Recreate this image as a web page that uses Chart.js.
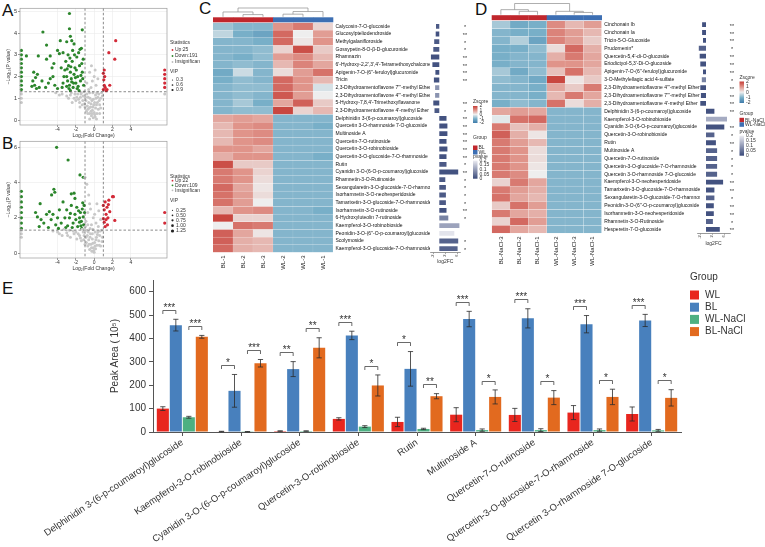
<!DOCTYPE html>
<html><head><meta charset="utf-8">
<script src="https://cdn.jsdelivr.net/npm/chart.js@4.4.1/dist/chart.umd.min.js"></script>
<style>
html,body{margin:0;padding:0;background:#fff;width:765px;height:547px;overflow:hidden;position:relative}
canvas{position:absolute}
.lab{position:absolute;font-family:"Liberation Sans",Arial,sans-serif;font-size:17px;line-height:17px;color:#111}
</style></head><body>
<div class="lab" style="left:2px;top:2px">A</div>
<div class="lab" style="left:2px;top:135px">B</div>
<div class="lab" style="left:199px;top:0px">C</div>
<div class="lab" style="left:475px;top:1px">D</div>
<div class="lab" style="left:2px;top:280px">E</div>
<script>
// ================= DATA =================
// ---- Panel E : peak areas (10^5) ----
const compoundsE = ['Delphinidin 3-(6-p-coumaroyl)glucoside','Kaempferol-3-O-robinobioside','Cyanidin 3-O-(6-O-p-coumaroyl)glucoside','Quercetin-3-O-robinobioside','Rutin','Multinoside A','Quercetin-7-O-rutinoside','Quercetin-3-O-glucoside-7-O-rhamnoside','Quercetin 3-O-rhamnoside 7-O-glucoside'];
const groupNamesE = ['WL','BL','WL-NaCl','BL-NaCl'];
const wlMean     = [100, 2, 4, 56, 43, 74, 73, 83, 77];
const wlErr      = [8, 1, 1, 5, 20, 30, 28, 30, 30];
const blMean     = [457, 176, 269, 413, 270, 483, 486, 461, 477];
const blErr      = [25, 70, 32, 18, 74, 33, 41, 37, 26];
const wlNaClMean = [63, 1, 4, 23, 13, 8, 8, 8, 7];
const wlNaClErr  = [4, 1, 1, 4, 3, 5, 6, 5, 4];
const blNaClMean = [407, 294, 360, 199, 153, 150, 147, 150, 146];
const blNaClErr  = [6, 16, 43, 45, 11, 30, 30, 33, 35];
const sigWLvsBL  = ['***','*','**','***','*','***','***','***','***'];
const sigNaCl    = ['***','***','**','*','**','*','*','*','*'];
const yTicksE    = [0,100,200,300,400,500,600];

// ---- Panels A/B : volcano points [log2FC, -log10 p] ----
const volcanoXTicks = [-4,-2,0,2,4];
const volcanoAYTicks = [0,1,2,3,4,5];
const volcanoBYTicks = [0,2,4,6];
const fcCut = [-1, 1];
const pCut = 1.301;
const volcanoA_down = [[-2.7,4.9],[-5.6,4.05],[-2.7,4.2],[-1.3,4.15],[-3.7,3.65],[-5.2,3.45],[-2.6,3.85],[-3.0,3.6],[-2.45,3.65],[-2.2,3.5],[-7.4,2.95],[-6.1,2.95],[-5.2,2.8],[-4.8,2.95],[-4.0,3.2],[-3.8,3.05],[-3.4,3.1],
[-6.6,2.2],[-6.4,1.95],[-6.7,1.8],[-6.2,2.1],[-6.5,1.6],[-6.0,1.5],[-5.7,1.8],[-5.3,1.5],[-5.0,1.7],[-4.8,1.9],[-4.5,2.0],[-4.3,1.6],[-4.0,1.45],[-4.4,2.6],[-4.6,2.4],[-6.8,1.55],[-6.3,1.45],
[-3.2,2.3],[-3.0,2.0],[-2.9,1.8],[-2.8,2.5],[-2.7,1.6],[-2.6,2.2],[-2.5,1.9],[-2.4,2.7],[-2.3,1.5],[-2.2,2.1],[-2.1,2.4],[-2.0,1.7],[-1.9,2.9],[-1.8,2.0],[-1.7,3.1],[-1.6,2.5],[-1.5,1.8],[-1.4,3.3],[-1.3,2.2],[-1.2,2.8],[-1.15,1.6],[-3.4,1.7],[-3.1,2.7],[-2.85,3.0],[-2.65,2.85],[-2.35,3.2],[-2.15,3.0],[-1.95,2.3],[-1.75,1.55],[-1.55,3.25],[-1.35,2.6],[-2.75,1.45],[-2.45,1.75],[-2.05,1.95],[-1.85,1.45],[-3.3,2.0],[-3.6,2.4],[-3.5,1.5],[-2.95,2.35],[-2.55,2.45],[-1.25,1.9],[-1.45,2.05],[-2.25,1.7],[-3.0,1.55],[-2.6,1.35],[-1.65,1.35],
[-7.95,1.4],[-7.95,1.6],[-7.95,1.8],[-7.95,2.0],[-7.95,2.2],[-7.95,2.4],[-7.95,2.6],[-7.95,2.8],[-7.95,3.0],[-7.95,3.2]];
const volcanoA_up = [[1.0,1.4],[1.1,1.6],[1.05,1.85],[1.15,2.0],[1.0,2.15],[1.1,2.3],[1.2,1.5],[1.3,1.35],[1.7,1.6],[1.6,3.1],[2.35,3.65],[2.25,2.8],[1.4,1.4],[7.7,1.5],[7.7,1.7],[7.7,1.9],[7.7,2.1],[7.7,2.3]];
const volcanoA_ns = [[-3.5,1.2],[-3.0,1.1],[-2.6,1.15],[-2.2,1.0],[-2.0,0.9],[-1.8,1.2],[-1.6,0.8],[-1.5,1.05],[-1.3,0.7],[-1.2,1.1],[-1.0,0.6],[-0.9,0.9],[-0.8,1.2],[-0.7,0.5],[-0.6,0.8],[-0.5,0.3],[-0.45,1.0],[-0.4,0.6],[-0.3,0.2],[-0.25,0.9],[-0.2,0.45],[-0.1,0.1],[-0.05,0.7],[0,0.35],[0.1,0.15],[0.15,0.55],[0.2,1.0],[0.3,0.3],[0.35,0.8],[0.45,0.5],[0.5,1.2],[0.6,0.7],[0.7,1.0],[0.8,1.25],[-0.35,1.5],[-0.2,1.8],[0,2.0],[0.2,1.6],[-0.6,1.4],[-0.8,1.7],[-0.5,2.2],[-0.3,2.5],[0.4,1.9],[0.1,2.3],[-1.1,1.3],[-1.4,1.25],[-0.15,1.25],[-1.7,0.95],[-2.4,0.8],[-0.85,0.4],[0.25,0.05],[-0.5,0.05],[0.6,0.3],
[-4.2,1.25],[-3.8,1.15],[-2.8,1.0],[-2.5,1.25],[-1.9,1.05],[-1.55,0.6],[-1.25,0.9],[-1.05,0.75],[-0.95,1.05],[-0.75,0.65],[-0.65,1.05],[-0.55,0.55],[-0.35,0.4],[-0.35,0.75],[-0.15,0.6],[-0.1,0.95],[0.05,0.25],[0.05,0.8],[0.25,0.7],[0.4,1.05],[0.55,0.9],[0.7,0.55],[0.9,1.1],[-0.7,0.3],[-0.25,0.3],[0.15,1.15],[-1.45,1.2],[-2.1,1.2],[-0.5,1.25],[0.3,1.25],
[-7.95,0.8],[-7.95,1.0],[-7.95,1.2],[7.7,1.2]];
const volcanoB_down = [[-4.1,6.0],[-2.85,5.28],[-1.55,4.43],[-1.2,4.3],[-4.4,3.62],[-4.65,3.3],[-4.3,3.45],[-2.5,3.36],[-2.2,3.4],[-2.1,3.1],[-5.9,2.8],[-6.4,2.3],[-6.2,2.05],[-5.8,1.9],[-5.5,1.7],[-5.2,2.2],[-4.9,2.35],[-4.7,1.9],[-4.5,2.2],[-4.2,1.6],[-4.0,2.0],[-3.8,2.45],[-3.6,1.7],[-3.4,2.9],[-3.2,2.0],[-3.0,2.45],[-2.9,1.55],[-2.7,2.0],[-2.5,2.7],[-2.3,1.7],[-2.1,2.2],[-1.9,2.6],[-1.8,1.5],[-1.6,2.0],[-1.5,2.3],[-1.4,1.8],[-1.3,2.5],[-1.2,2.05],[-1.15,1.6],[-1.1,2.7],[-2.4,1.45],[-3.9,1.4],[-5.0,1.45],[-6.0,1.5],[-2.0,1.9],[-1.7,2.4],[-1.35,1.4],[-2.6,2.25],[-3.1,1.45],[-1.25,2.85],[-1.45,1.55],[-1.05,2.3],[-1.6,1.75],
[-7.95,1.4],[-7.95,1.7],[-7.95,2.0],[-7.95,2.3],[-7.95,2.6],[-7.95,2.9],[-7.95,3.2],[-7.95,3.5]];
const volcanoB_up = [[1.0,2.7],[1.1,2.45],[1.2,2.9],[1.3,2.2],[1.4,2.6],[1.5,2.0],[1.6,3.0],[1.7,2.35],[1.3,1.9],[1.1,1.75],[2.0,3.2],[2.1,3.2],[1.55,2.75],[2.25,1.85],[1.2,1.5],[1.0,1.95],[1.45,1.6],[7.7,2.3],[7.7,1.7]];
const volcanoB_ns = [[-4.0,1.2],[-3.5,1.0],[-3.0,1.15],[-2.6,0.9],[-2.2,1.1],[-1.9,0.8],[-1.6,1.0],[-1.4,0.7],[-1.2,1.2],[-1.0,0.5],[-0.9,0.9],[-0.8,1.3],[-0.7,0.4],[-0.6,0.75],[-0.5,0.2],[-0.4,1.1],[-0.35,0.5],[-0.25,0.1],[-0.2,0.8],[-0.1,0.3],[0,0.05],[0.05,0.6],[0.15,0.25],[0.25,0.9],[0.3,0.45],[0.4,1.2],[0.5,0.7],[0.6,1.0],[0.7,0.4],[0.8,1.3],[0.9,0.9],[-0.9,1.8],[-0.7,2.3],[-0.5,2.8],[-0.6,3.3],[-0.8,3.9],[-1.0,4.3],[-0.3,1.6],[-0.1,2.0],[0.2,1.7],[0.5,2.4],[0.3,2.8],[0.7,1.9],[-0.4,2.5],[-0.95,1.5],[-1.3,1.35],[-2.7,1.3],[-3.3,1.35],[-0.65,1.2],[-0.15,1.35],[0.45,1.5],
[-4.5,1.25],[-3.8,1.1],[-2.9,1.0],[-2.3,1.25],[-1.75,1.1],[-1.5,0.85],[-1.1,1.0],[-0.85,0.6],[-0.75,1.0],[-0.55,0.5],[-0.45,0.9],[-0.3,0.3],[-0.15,0.55],[-0.05,0.15],[0.1,0.4],[0.2,0.75],[0.35,1.05],[0.55,0.45],[0.65,1.25],[0.85,0.65],[-0.45,1.4],[-0.2,1.1],[0.1,1.2],[-1.15,0.75],[-2.0,1.2],[-0.7,1.6],[0.05,2.2],
[-7.95,0.9],[-7.95,1.1],[-7.95,1.3]];

// ---- Panel C : heatmap BL vs WL ----
const colsC = ['BL-1','BL-2','BL-3','WL-2','WL-3','WL-1'];
const groupsC = ['BL','BL','BL','WL','WL','WL'];
const rowsC = ["Calycosin-7-O-glucoside","Glucosylpteliodendroside","Methylgalanifloroside","Gossypetin-8-O-β-D-glucuronide","Rhamnazin","6'-Hydroxy-2,2',3',4'-Tetramethoxychalcone","Apigenin-7-O-(6''-feruloyl)glucuronide","Tricin","2,3-Dihydroamentoflavone 7'''-methyl Ether","2,3-Dihydroamentoflavone 4'''-methyl Ether","5-Hydroxy-7,8,4'-Trimethoxyflavanone","2,3-Dihydroamentoflavone 4'-methyl Ether","Delphinidin 3-(6-p-coumaroyl)glucoside","Quercetin 3-O-rhamnoside 7-O-glucoside","Multinoside A","Quercetin-7-O-rutinoside","Quercetin-3-O-robinobioside","Quercetin-3-O-glucoside-7-O-rhamnoside","Rutin","Cyanidin 3-O-(6-O-p-coumaroyl)glucoside","Rhamnetin-3-O-Rutinoside","Sexangularetin-3-O-glucoside-7-O-rhamnoside","Isorhamnetin-3-O-neohesperidoside","Tamarixetin-3-O-glucoside-7-O-rhamnoside","Isorhamnetin-3-O-rutinoside","6-Hydroxyluteolin 7-rutinoside","Kaempferol-3-O-robinobioside","Peonidin-3-O-(6''-O-p-coumaroyl)glucoside","Scolymoside","Kaempferol-3-O-glucoside-7-O-rhamnoside"];
const zC = [
[-0.7,-0.9,-0.9, 1.0, 1.3, 0.3],[-0.4,-1.0,-1.2, 1.5, 0.0, 0.9],[-0.9,-0.9,-1.0, 1.5, 0.1, 1.0],[-0.9,-0.9,-0.8, 0.3, 1.8, 0.4],
[-0.9,-1.0,-0.8, 0.9, 1.1, 0.6],[-0.9,-0.8,-0.9, 0.6, 1.2, 0.8],[-1.1,-0.3,-0.9, 0.2, 0.9, 1.4],[-1.0,-0.8,-0.9, 1.5, 1.0, 0.6],
[-0.9,-0.8,-0.8, 1.5, 1.0,-0.2],[-0.9,-0.8,-0.9, 1.7, 0.9, 0.0],[-0.9,-0.6,-1.0, 0.8, 1.6, 0.4],[-0.9,-0.8,-0.8, 1.9, 0.3, 0.6],
[ 0.8, 0.9, 0.8,-0.9,-0.9,-0.9],[ 0.6, 1.0, 1.1,-0.9,-0.9,-1.0],[ 0.6, 1.0, 1.1,-0.9,-0.9,-0.9],[ 0.6, 1.0, 1.1,-0.9,-0.9,-0.9],
[ 1.0, 1.0, 0.8,-0.9,-0.9,-0.9],[ 0.7, 1.0, 1.0,-0.9,-0.9,-1.0],[ 1.8, 0.4, 0.4,-0.9,-0.9,-0.9],[ 1.3, 1.0, 0.3,-0.9,-0.9,-0.9],
[ 1.3, 1.0, 0.2,-0.9,-0.9,-0.9],[ 1.5, 0.8, 0.1,-0.9,-0.9,-0.9],[ 1.4, 0.9, 0.2,-0.9,-0.9,-0.9],[ 1.4, 0.9, 0.0,-0.9,-0.9,-0.9],
[ 0.6, 1.0, 1.1,-0.9,-0.9,-1.0],[ 1.9, 0.3, 0.3,-0.9,-0.9,-0.9],[ 0.0, 1.4, 1.3,-0.9,-0.9,-0.9],[ 1.6, 0.8, 0.1,-0.9,-0.9,-0.9],
[ 1.6, 0.7, 0.6,-0.9,-0.9,-0.9],[ 1.5, 0.7, 0.6,-0.9,-0.9,-0.9]];
const fcC = [-1.1,-1.2,-1.7,-2.0,-2.8,-2.3,-1.3,-1.8,-1.4,-1.4,-2.0,-1.6,2.4,2.7,2.7,2.4,2.7,2.4,2.4,6.3,2.0,2.2,2.2,2.2,2.4,3.0,6.7,5.0,6.3,6.1];
const pC  = [0.02,0.01,0.02,0.02,0.01,0.01,0.01,0.01,0.09,0.09,0.01,0.02,0.01,0.01,0.01,0.01,0.01,0.01,0.02,0.01,0.02,0.02,0.02,0.02,0.01,0.07,0.11,0.19,0.03,0.03];
const starsC = ['*','**','*','*','**','**','**','**','','','**','*','**','**','**','**','**','**','*','**','*','*','*','*','**','*','','','*','*'];
const mergesC = [[1,2,0.25],[0,6,0.55],[3,4,0.3],[5,8,0.6],[7,9,1]];

// ---- Panel D : heatmap BL-NaCl vs WL-NaCl ----
const colsD = ['BL-NaCl-3','BL-NaCl-2','BL-NaCl-1','WL-NaCl-2','WL-NaCl-3','WL-NaCl-1'];
const groupsD = ['BL-NaCl','BL-NaCl','BL-NaCl','WL-NaCl','WL-NaCl','WL-NaCl'];
const rowsD = ["Cinchonain Ib","Cinchonain Ia","Tricin-5-O-Glucoside","Prudomenin*","Quercetin-5,4'-di-O-glucoside","Eriodictyol-5,3'-Di-O-glucoside","Apigenin-7-O-(6''-feruloyl)glucuronide","3-O-Methylellagic acid 4-sulfate","2,3-Dihydroamentoflavone 4'''-methyl Ether","2,3-Dihydroamentoflavone 7'''-methyl Ether","2,3-Dihydroamentoflavone 4'-methyl Ether","Delphinidin 3-(6-p-coumaroyl)glucoside","Kaempferol-3-O-robinobioside","Cyanidin 3-O-(6-O-p-coumaroyl)glucoside","Quercetin-3-O-robinobioside","Rutin","Multinoside A","Quercetin-7-O-rutinoside","Quercetin-3-O-glucoside-7-O-rhamnoside","Quercetin 3-O-rhamnoside 7-O-glucoside","Kaempferol-3-O-neohesperidoside","Tamarixetin-3-O-glucoside-7-O-rhamnoside","Sexangularetin-3-O-glucoside-7-O-rhamnoside","Peonidin-3-O-(6''-O-p-coumaroyl)glucoside","Isorhamnetin-3-O-neohesperidoside","Rhamnetin-3-O-Rutinoside","Hesperetin-7-O-glucoside"];
const zD = [
[-0.6,-1.1,-1.0, 1.1, 0.6, 0.9],[-0.9,-1.0,-1.0, 1.2, 0.9, 0.6],[-0.9,-0.5,-1.2, 1.2, 0.9, 0.4],[-1.0,-1.0,-0.8, 0.2, 1.5, 0.7],
[-1.0,-0.9,-0.9, 0.7, 1.3, 0.8],[-1.0,-0.9,-0.9, 1.0, 1.0, 0.8],[-0.6,-1.1,-0.8, 0.5, 1.4, 0.6],[-0.8,-0.9,-1.1, 1.9, 0.1, 0.4],
[-0.9,-0.9,-1.0, 0.8, 0.4, 1.3],[-0.9,-0.9,-1.0, 0.6, 1.3, 0.8],[-1.0,-0.8,-0.9, 1.4, 0.2, 0.7],
[ 0.8, 0.9, 0.8,-0.9,-0.9,-0.9],[-0.1, 1.4, 1.5,-0.9,-0.9,-0.9],[ 1.3, 0.5, 0.7,-0.9,-0.9,-0.9],[ 1.6, 0.7, 0.1,-0.9,-0.9,-0.9],
[ 1.3, 0.9, 0.6,-0.9,-0.9,-0.9],[ 1.3, 1.0, 0.2,-0.9,-0.9,-0.9],[ 1.3, 1.0, 0.2,-0.9,-0.9,-0.9],[ 1.3, 1.0, 0.1,-0.9,-0.9,-0.9],
[ 1.3, 1.1, 0.0,-0.9,-0.9,-0.9],[ 0.3, 1.3, 0.8,-0.9,-0.9,-0.9],[ 1.3, 0.9, 0.7,-0.9,-0.9,-0.9],[ 1.4, 0.8, 0.6,-0.9,-0.9,-0.9],
[ 0.4, 1.4, 0.9,-0.9,-0.9,-0.9],[ 1.3, 0.8, 0.7,-0.9,-0.9,-0.9],[ 0.3, 1.5, 0.9,-0.9,-0.9,-0.9],[ 1.5, 0.8, 0.6,-0.9,-0.9,-0.9]];
const fcD = [-1.3,-1.3,-1.0,-2.4,-2.1,-1.9,-1.0,-1.4,-1.9,-1.7,-1.9,2.8,7.0,6.1,2.8,3.3,3.7,3.7,3.7,3.7,5.7,2.8,2.8,2.6,2.6,2.3,4.6];
const pD  = [0.01,0.01,0.01,0.03,0.01,0.01,0.01,0.07,0.01,0.01,0.01,0.01,0.12,0.01,0.03,0.01,0.03,0.03,0.03,0.03,0.01,0.01,0.03,0.01,0.01,0.03,0.01];
const starsD = ['**','**','**','*','**','**','**','*','**','**','**','**','','**','*','**','*','*','*','*','**','**','*','**','**','*','**'];
const mergesD = [[1,2,0.3],[0,6,0.45],[4,5,0.2],[3,8,0.3],[7,9,1]];
const fcTicksC = [-2,0,2,4,6];
const fcTicksD = [-2,0,2,4,6,8];

// ================= STYLE / HELPERS =================
const F = '"Liberation Sans", Arial, sans-serif';
Chart.defaults.font.family = F;
Chart.defaults.animation = false;
Chart.defaults.responsive = false;
Chart.defaults.maintainAspectRatio = false;
Chart.defaults.plugins.legend.display = false;
Chart.defaults.plugins.tooltip.enabled = false;
Chart.defaults.devicePixelRatio = 1;

function mkCanvas(left, top, w, h){
  const c = document.createElement('canvas');
  c.width = w; c.height = h;
  c.style.left = left+'px'; c.style.top = top+'px';
  c.style.width = w+'px'; c.style.height = h+'px';
  document.body.appendChild(c);
  return c;
}
const zStops = [[-2,[62,122,170]],[-1,[120,175,200]],[0,[238,238,238]],[1,[224,148,138]],[2,[198,62,56]]];
function zColor(z){
  z = Math.max(-2, Math.min(2, z));
  for (let k=0;k<zStops.length-1;k++){
    const [a,ca]=zStops[k],[b,cb]=zStops[k+1];
    if (z<=b){ const t=(z-a)/(b-a); return 'rgb('+ca.map((v,i)=>Math.round(v+(cb[i]-v)*t)).join(',')+')'; }
  }
  return 'rgb('+zStops[4][1].join(',')+')';
}
function pColor(p){
  const t = Math.max(0, Math.min(1, p/0.2));
  const a=[58,74,122], b=[236,236,242];
  return 'rgb('+a.map((v,i)=>Math.round(v+(b[i]-v)*t)).join(',')+')';
}

// ================= PANEL E =================
const colorsE = ['#E8261E','#4880BD','#4DB082','#E26A1F'];
const meansE = [wlMean, blMean, wlNaClMean, blNaClMean];
const errsE = [wlErr, blErr, wlNaClErr, blNaClErr];

const errorBarPlugin = {id:'eb', afterDatasetsDraw(chart){
  const {ctx, scales:{y}} = chart;
  ctx.save(); ctx.strokeStyle='#2b2b2b'; ctx.lineWidth=0.8;
  chart.data.datasets.forEach((ds,di)=>{
    chart.getDatasetMeta(di).data.forEach((el,i)=>{
      const m=ds.data[i], e=ds.errors[i];
      const yt=y.getPixelForValue(m+e), yb=y.getPixelForValue(Math.max(0,m-e)), x=el.x;
      ctx.beginPath();
      ctx.moveTo(x,yt); ctx.lineTo(x,yb);
      ctx.moveTo(x-2.6,yt); ctx.lineTo(x+2.6,yt);
      ctx.moveTo(x-2.6,yb); ctx.lineTo(x+2.6,yb);
      ctx.stroke();
    });
  });
  ctx.restore();
}};
const bracketPlugin = {id:'brk', afterDatasetsDraw(chart){
  const {ctx, scales:{y}} = chart;
  const ds = chart.data.datasets, gap = 40;
  ctx.save(); ctx.strokeStyle='#444'; ctx.lineWidth=0.8; ctx.fillStyle='#333';
  ctx.font='10px '+F; ctx.textAlign='center'; ctx.textBaseline='alphabetic';
  compoundsE.forEach((c,i)=>{
    [[0,1,sigWLvsBL[i]],[2,3,sigNaCl[i]]].forEach(([a,b,s])=>{
      const top = Math.max(ds[a].data[i]+ds[a].errors[i], ds[b].data[i]+ds[b].errors[i]) + gap;
      const py = Math.round(y.getPixelForValue(top))+0.5;
      const xa = chart.getDatasetMeta(a).data[i].x, xb = chart.getDatasetMeta(b).data[i].x;
      ctx.beginPath(); ctx.moveTo(xa,py+3.5); ctx.lineTo(xa,py); ctx.lineTo(xb,py); ctx.lineTo(xb,py+3.5); ctx.stroke();
      ctx.fillText(s,(xa+xb)/2,py+0.5);
    });
  });
  ctx.restore();
}};
const legendE = {id:'legE', afterDraw(chart){
  const ctx = chart.ctx;
  ctx.save(); ctx.font='10px '+F; ctx.fillStyle='#333'; ctx.textBaseline='middle'; ctx.textAlign='left';
  ctx.fillText('Group', 690, 7);
  groupNamesE.forEach((g,k)=>{
    const cy = 25 + k*12.2;
    ctx.fillStyle = colorsE[k]; ctx.fillRect(690, cy-4.5, 9, 9);
    ctx.fillStyle = '#333'; ctx.fillText(g, 705, cy);
  });
  ctx.restore();
}};

new Chart(mkCanvas(0,270,765,277), {
  type:'bar',
  data:{labels:compoundsE, datasets: groupNamesE.map((n,i)=>({label:n, data:meansE[i], errors:errsE[i], backgroundColor:colorsE[i], borderWidth:0, categoryPercentage:0.886, barPercentage:0.93}))},
  options:{
    layout:{padding:{left:105, top:10, right:84, bottom:0}},
    scales:{
      x:{grid:{display:true, drawOnChartArea:false, offset:false, tickLength:4, color:'#555'}, border:{color:'#555', width:1},
         ticks:{autoSkip:false, minRotation:34, maxRotation:34, font:{size:9.5}, color:'#333', padding:1},
         afterFit:s=>{s.height=115;}},
      y:{min:0, max:650, afterBuildTicks:s=>{s.ticks=yTicksE.map(v=>({value:v}));},
         grid:{drawOnChartArea:false, tickLength:4, color:'#555'}, border:{color:'#555', width:1},
         ticks:{font:{size:10}, color:'#333', padding:3},
         title:{display:true, text:'Peak Area ( 10⁵)', font:{size:10}, color:'#333', padding:{top:4,bottom:0}},
         afterFit:s=>{s.width=48;}}
    }
  },
  plugins:[errorBarPlugin, bracketPlugin, legendE]
});

// ================= PANELS A / B =================
const volcanoDeco = {id:'vdeco', afterDatasetsDraw(chart, args, o){
  const {ctx, chartArea:a, scales:{x,y}} = chart;
  ctx.save();
  ctx.setLineDash([2.5,2]); ctx.strokeStyle='#3a3a3a'; ctx.lineWidth=0.6;
  fcCut.forEach(v=>{const px=x.getPixelForValue(v); ctx.beginPath(); ctx.moveTo(px,a.top); ctx.lineTo(px,a.bottom); ctx.stroke();});
  const py=y.getPixelForValue(pCut); ctx.beginPath(); ctx.moveTo(a.left,py); ctx.lineTo(a.right,py); ctx.stroke();
  ctx.setLineDash([]); ctx.strokeStyle='#9a9a9a'; ctx.lineWidth=0.7; ctx.strokeRect(a.left,a.top,a.width,a.height);
  // legend
  ctx.font='5px '+F; ctx.textBaseline='middle'; ctx.textAlign='left'; ctx.fillStyle='#333';
  ctx.fillText('Statistics', 170, o.statY[0]);
  o.stat.forEach((t,k)=>{
    ctx.fillStyle=o.statColors[k]; ctx.beginPath(); ctx.arc(172.5,o.statY[k+1],0.9,0,Math.PI*2); ctx.fill();
    ctx.fillStyle='#333'; ctx.fillText(t,175,o.statY[k+1]);
  });
  ctx.fillText('VIP', 170, o.vipY[0]);
  o.vip.forEach((t,k)=>{
    ctx.fillStyle='#222'; ctx.beginPath(); ctx.arc(172.5,o.vipY[k+1],0.6+k*0.25,0,Math.PI*2); ctx.fill();
    ctx.fillStyle='#333'; ctx.fillText(t,176,o.vipY[k+1]);
  });
  ctx.restore();
}};
function volcano(top, cfg){
  const toPts = arr => arr.map(p=>({x:p[0], y:p[1]}));
  new Chart(mkCanvas(0, top, 200, 139), {
    type:'scatter',
    data:{datasets:[
      {data:toPts(cfg.ns), backgroundColor:'#C8C8C8', pointRadius:1.5, pointBorderWidth:0, clip:4},
      {data:toPts(cfg.down), backgroundColor:'#2C862C', pointRadius:1.6, pointBorderWidth:0, clip:4},
      {data:toPts(cfg.up), backgroundColor:'#D32A38', pointRadius:1.6, pointBorderWidth:0, clip:4}
    ]},
    options:{
      layout:{padding:{left:6, top:8.3, right:33, bottom:0}},
      plugins:{vdeco:cfg.legend},
      scales:{
        x:{type:'linear', min:-8.1, max:7.95, afterBuildTicks:s=>{s.ticks=volcanoXTicks.map(v=>({value:v}));},
           grid:{color:'#EBEBEB', lineWidth:0.6, tickLength:2, tickColor:'#555'}, border:{display:false},
           ticks:{font:{size:5}, color:'#333', padding:0},
           title:{display:true, text:'Log₂(Fold Change)', font:{size:5}, color:'#333', padding:0},
           afterFit:s=>{s.height=14;}},
        y:{type:'linear', min:cfg.yMin, max:cfg.yMax, afterBuildTicks:s=>{s.ticks=cfg.yTicks.map(v=>({value:v}));},
           grid:{color:'#EBEBEB', lineWidth:0.6, tickLength:2, tickColor:'#555'}, border:{display:false},
           ticks:{font:{size:5.5}, color:'#333', padding:1},
           title:{display:true, text:'−Log₁₀(P value)', font:{size:5}, color:'#333', padding:0},
           afterFit:s=>{s.width=14;}}
      }
    },
    plugins:[volcanoDeco]
  });
}
volcano(0, {up:volcanoA_up, down:volcanoA_down, ns:volcanoA_ns, yMin:-0.23, yMax:5.14, yTicks:volcanoAYTicks,
  legend:{stat:['Up:25','Down:191','Insignificant:260'], statColors:['#D32A38','#2C862C','#BDBDBD'], statY:[43,50,56,62], vip:['0.3','0.6','0.9'], vipY:[72,80,85,90]}});
volcano(133, {up:volcanoB_up, down:volcanoB_down, ns:volcanoB_ns, yMin:-0.28, yMax:6.34, yTicks:volcanoBYTicks,
  legend:{stat:['Up:22','Down:109','Insignificant:355'], statColors:['#D32A38','#2C862C','#BDBDBD'], statY:[43.3,47.7,52.3,57.3], vip:['0.25','0.50','0.75','1.00','1.25'], vipY:[67.7,77.3,82.3,87.3,92.7,98]}});

// ================= HEATMAPS =================
const heatDeco = {id:'hdeco', afterDraw(chart, args, o){
  const {ctx, scales:{x}} = chart;
  ctx.save();
  o.groups.forEach((g,i)=>{const x0=x.getPixelForValue(i), x1=x.getPixelForValue(i+1); ctx.fillStyle=o.groupColors[g]; ctx.fillRect(x0,o.headerTop,x1-x0+0.3,o.headerH);});
  const nx=o.groups.map((g,i)=>x.getPixelForValue(i+0.5)), nh=o.groups.map(()=>0);
  const base=o.headerTop-0.5, yOf=h=>base-h*(base-o.dendroTop);
  ctx.strokeStyle='#8c8c8c'; ctx.lineWidth=0.7;
  o.merges.forEach(([a,b,h])=>{
    ctx.beginPath(); ctx.moveTo(nx[a],yOf(nh[a])); ctx.lineTo(nx[a],yOf(h)); ctx.lineTo(nx[b],yOf(h)); ctx.lineTo(nx[b],yOf(nh[b])); ctx.stroke();
    nx.push((nx[a]+nx[b])/2); nh.push(h);
  });
  ctx.restore();
}};
function heatmap(left, top, w, h, cfg){
  const datasets = cfg.cols.map((c,ci)=>({
    data: cfg.rows.map(()=>1),
    backgroundColor: cfg.z.map(r=>zColor(r[ci])),
    borderWidth:0.4, borderColor:'rgba(255,255,255,0.35)', barPercentage:1, categoryPercentage:1
  }));
  new Chart(mkCanvas(left, top, w, h), {
    type:'bar',
    data:{labels:cfg.rows, datasets},
    options:{
      indexAxis:'y',
      layout:{padding:{left:cfg.area.l-left, top:cfg.area.t-top, right:0, bottom:0}},
      plugins:{hdeco:{groups:cfg.groups, groupColors:cfg.groupColors, headerTop:cfg.headerTop, headerH:cfg.headerH, dendroTop:cfg.dendroTop, merges:cfg.merges}},
      scales:{
        x:{type:'linear', stacked:true, min:0, max:cfg.cols.length, position:'bottom',
           afterBuildTicks:s=>{s.ticks=cfg.cols.map((c,i)=>({value:i+0.5}));},
           grid:{display:false, drawTicks:false}, border:{display:false},
           ticks:{font:{size:6}, color:'#222', minRotation:90, maxRotation:90, padding:3, callback:(v,i)=>cfg.cols[i]},
           afterFit:s=>{s.height=h-(cfg.area.b-top);}},
        y:{type:'category', stacked:true, position:'right', grid:{display:false, drawTicks:false}, border:{display:false},
           ticks:{autoSkip:false, font:{size:5}, color:'#111', padding:2.5},
           afterFit:s=>{s.width=left+w-cfg.area.r;}}
      }
    },
    plugins:[heatDeco]
  });
}
const fcDeco = {id:'fdeco', afterDraw(chart, args, o){
  const {ctx, scales:{y}} = chart;
  ctx.save(); ctx.fillStyle='#333'; ctx.font='5.5px '+F; ctx.textAlign='center'; ctx.textBaseline='middle';
  o.stars.forEach((s,i)=>{ if(s) ctx.fillText(s, o.starX, y.getPixelForValue(i)+1.5); });
  const L=o.L;
  ctx.textAlign='left'; ctx.font='5px '+F; ctx.fillStyle='#333';
  ctx.fillText('Zscore', L.x, L.zTitle);
  let g=ctx.createLinearGradient(0,L.zTop,0,L.zBot);
  zStops.slice().reverse().forEach(([v,c],k)=>g.addColorStop(k/4,'rgb('+c.join(',')+')'));
  ctx.fillStyle=g; ctx.fillRect(L.x,L.zTop,4.5,L.zBot-L.zTop);
  ctx.fillStyle='#333';
  [2,1,0,-1,-2].forEach(v=>ctx.fillText(String(v), L.x+6.5, L.zTop+(2-v)/4*(L.zBot-L.zTop)));
  ctx.fillText('Group', L.x, L.gTitle);
  o.groupNames.forEach((gn,k)=>{
    ctx.fillStyle=o.groupColors[gn]; ctx.fillRect(L.x, L.gTop+k*4.5, 4.5, 4.5);
    ctx.fillStyle='#333'; ctx.fillText(gn, L.x+5.5, L.gTop+k*4.5+2.4);
  });
  ctx.fillText('pvalue', L.x, L.pTitle);
  g=ctx.createLinearGradient(0,L.pTop,0,L.pBot); g.addColorStop(0,pColor(0.2)); g.addColorStop(1,pColor(0));
  ctx.fillStyle=g; ctx.fillRect(L.x,L.pTop,4.5,L.pBot-L.pTop);
  ctx.fillStyle='#333';
  [[0.2,'0.2'],[0.15,'0.15'],[0.1,'0.1'],[0.05,'0.05'],[0,'0']].forEach(([v,t])=>ctx.fillText(t, L.x+6.5, L.pTop+(0.2-v)/0.2*(L.pBot-L.pTop)));
  ctx.restore();
}};
function fcBars(left, top, w, h, cfg){
  new Chart(mkCanvas(left, top, w, h), {
    type:'bar',
    data:{labels:cfg.rows, datasets:[{data:cfg.fc, backgroundColor:cfg.p.map(pColor), borderWidth:0, barPercentage:0.62, categoryPercentage:1}]},
    options:{
      indexAxis:'y',
      layout:{padding:{left:cfg.area.l-left, top:cfg.area.t-top, right:left+w-cfg.area.r, bottom:0}},
      plugins:{fdeco:{stars:cfg.stars, starX:cfg.starX-left, L:cfg.L, groupNames:cfg.groupNames, groupColors:cfg.groupColors}},
      scales:{
        x:{type:'linear', min:cfg.xMin, max:cfg.xMax, afterBuildTicks:s=>{s.ticks=cfg.ticks.map(v=>({value:v}));},
           grid:{drawOnChartArea:false, tickLength:1.5, color:'#555', lineWidth:0.5}, border:{color:'#555', width:0.6},
           ticks:{font:{size:4}, color:'#333', minRotation:90, maxRotation:90, padding:0.5},
           title:{display:true, text:'log2FC', font:{size:5}, color:'#333', padding:0},
           afterFit:s=>{s.height=h-(cfg.area.b-top);}},
        y:{display:false}
      }
    },
    plugins:[fcDeco]
  });
}
const grpColC = {'BL':'#C0272D','WL':'#3D6FB3'};
const grpColD = {'BL-NaCl':'#C0272D','WL-NaCl':'#3D6FB3'};

heatmap(200, 0, 230, 272, {rows:rowsC, cols:colsC, z:zC, groups:groupsC, groupColors:grpColC, merges:mergesC,
  area:{l:213, t:22.5, r:333, b:252.5}, headerTop:17.3, headerH:5, dendroTop:8});
fcBars(425, 0, 70, 265, {rows:rowsC, fc:fcC, p:pC, stars:starsC, xMin:-3, xMax:7, ticks:fcTicksC,
  area:{l:430.3, t:22.5, r:460.3, b:252.5}, starX:465, groupNames:['BL','WL'], groupColors:grpColC,
  L:{x:48, zTitle:101.5, zTop:106, zBot:123, gTitle:137.7, gTop:145.5, pTitle:157, pTop:160.5, pBot:178.7}});

heatmap(470, 0, 230, 272, {rows:rowsD, cols:colsD, z:zD, groups:groupsD, groupColors:grpColD, merges:mergesD,
  area:{l:491.7, t:20.7, r:601.7, b:233.3}, headerTop:15.2, headerH:5, dendroTop:3.5});
fcBars(692, 0, 73, 247, {rows:rowsD, fc:fcD, p:pD, stars:starsD, xMin:-3, xMax:8, ticks:fcTicksD,
  area:{l:697, t:20.7, r:730, b:233.3}, starX:732, groupNames:['BL-NaCl','WL-NaCl'], groupColors:grpColD,
  L:{x:47.5, zTitle:78, zTop:81.5, zBot:103, gTitle:113.3, gTop:117.8, pTitle:131.7, pTop:135.7, pBot:155.7}});
</script>
</body></html>
